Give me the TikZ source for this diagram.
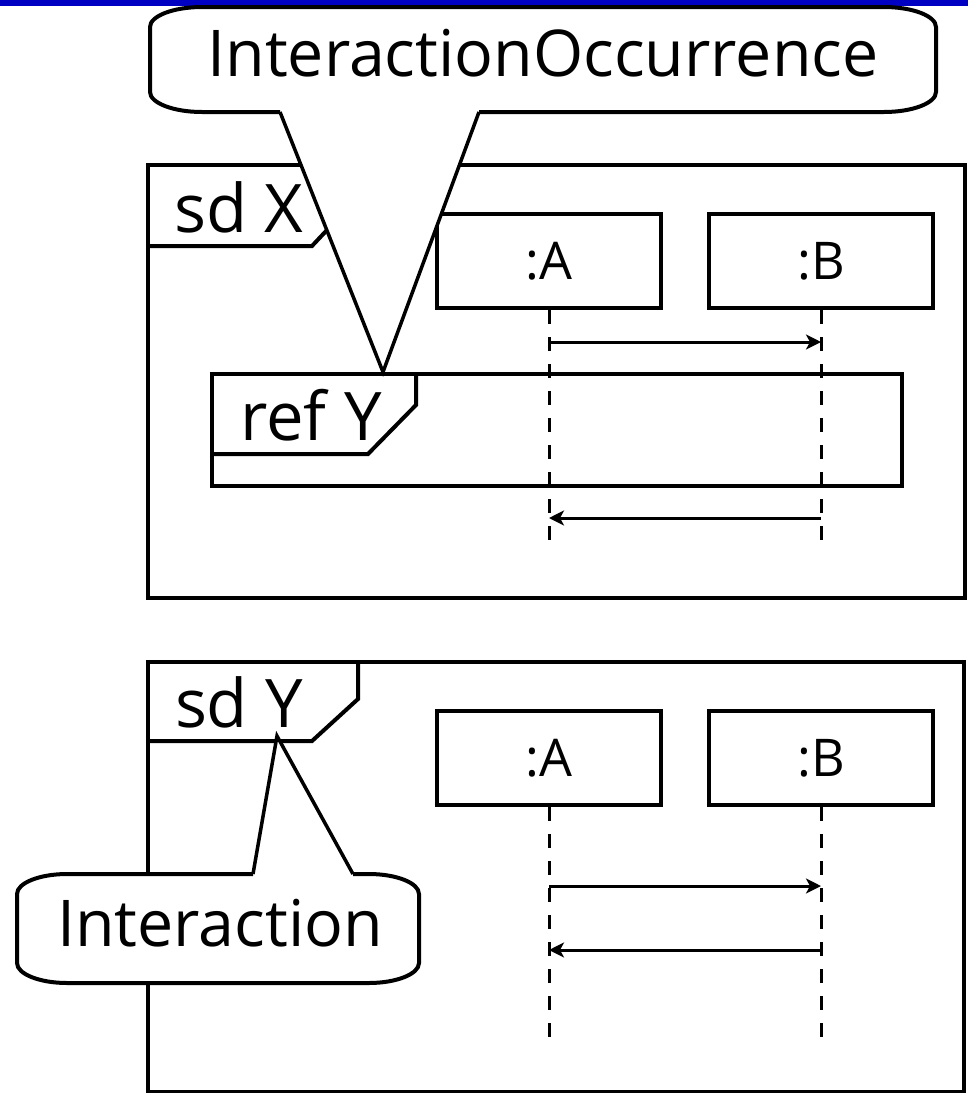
\documentclass[tikz,border=0pt]{standalone}
\usepackage{fontspec}
\setmainfont{Open Sans}
\usetikzlibrary{arrows.meta}

\definecolor{barblue}{RGB}{0,0,195}

\tikzset{
  frm/.style={line width=4pt, line join=miter},
  headbox/.style={draw, line width=4pt, fill=white, minimum width=224pt,
    minimum height=94pt, inner sep=0pt, font=\fontsize{52}{52}\selectfont},
  life/.style={line width=3pt, dash pattern=on 14pt off 13pt},
  msg/.style={line width=3pt, -{Stealth[length=15pt,width=15pt,inset=4pt]}},
  ptr/.style={line width=3.5pt, line join=miter},
  bubble/.style={line width=4pt, fill=white},
  lbl/.style={font=\fontsize{67}{67}\selectfont, inner sep=0pt},
  callout/.style={font=\fontsize{64.5}{64.5}\selectfont, inner sep=0pt}
}

\begin{document}
\begin{tikzpicture}[x=1pt,y=-1pt]
\useasboundingbox (0,0) rectangle (968,1093);
\clip (0,0) rectangle (968,1093);

% title bar
\fill[barblue] (0,0) rectangle (968,6);

% ---------------- sd X ----------------
\draw[frm] (148,165) rectangle (965,598);
\draw[frm] (148,246) -- (312,246) -- (327,230) -- (327,165);
\node[lbl, anchor=base] (sdx) at (239,232) {sd X};

\node[headbox] (xa) at (549,261) {:A};
\node[headbox] (xb) at (821,261) {:B};
\coordinate (xaend) at (549,548);
\coordinate (xbend) at (821,548);
\draw[life] (xa) -- (xaend);
\draw[life] (xb) -- (xbend);

% interaction occurrence
\draw[frm] (212,374) rectangle (902,486);
\draw[frm] (212,454) -- (368,454) -- (416,405) -- (416,374);
\node[lbl, anchor=base] (refy) at (311,440) {ref Y};

\coordinate (xa1) at (549,342);
\coordinate (xb1) at (821,342);
\coordinate (xa2) at (549,518);
\coordinate (xb2) at (821,518);
\draw[msg] (xa1) -- (xb1);
\draw[msg] (xb2) -- (xa2);

% callout for the occurrence
\coordinate (tipx) at (383,372);
\coordinate (occl) at (280,112);
\coordinate (occr) at (479,112);
\fill[white] (277.2,105) -- (tipx) -- (481.7,105) -- cycle;
\draw[bubble] (occr) -- (884,112) .. controls (912.6,112) and (936,103) .. (936,92)
  -- (936,27) .. controls (936,16) and (912.6,7) .. (884,7)
  -- (202,7) .. controls (173.4,7) and (150,16) .. (150,27)
  -- (150,92) .. controls (150,103) and (173.4,112) .. (202,112) -- (occl);
\draw[ptr] (occl) -- (tipx) -- (occr);
\node[callout, anchor=base] (occ) at (543,76) {InteractionOccurrence};

% ---------------- sd Y ----------------
\draw[frm] (148,662) rectangle (964,1092);
\draw[frm] (148,741) -- (312,741) -- (358,699) -- (358,662);
\node[lbl, anchor=base] (sdy) at (239,727) {sd Y};

\node[headbox] (ya) at (549,758) {:A};
\node[headbox] (yb) at (821,758) {:B};
\coordinate (yaend) at (549,1046);
\coordinate (ybend) at (821,1046);
\draw[life] (ya) -- (yaend);
\draw[life] (yb) -- (ybend);

\coordinate (ya1) at (549,886);
\coordinate (yb1) at (821,886);
\coordinate (ya2) at (549,950);
\coordinate (yb2) at (821,950);
\draw[msg] (ya1) -- (yb1);
\draw[msg] (yb2) -- (ya2);

% callout for the interaction
\coordinate (tipy) at (277,736);
\coordinate (intl) at (253,874);
\coordinate (intr) at (353,874);
\fill[white] (252,880) -- (tipy) -- (356.3,880) -- cycle;
\draw[bubble] (intr) -- (369,874) .. controls (396.5,874) and (419,883) .. (419,894)
  -- (419,963) .. controls (419,974) and (396.5,983) .. (369,983)
  -- (67,983) .. controls (39.5,983) and (17,974) .. (17,963)
  -- (17,894) .. controls (17,883) and (39.5,874) .. (67,874) -- (intl);
\draw[ptr] (intl) -- (tipy) -- (intr);
\node[callout, anchor=base] (inter) at (220,946) {Interaction};
\end{tikzpicture}
\end{document}
